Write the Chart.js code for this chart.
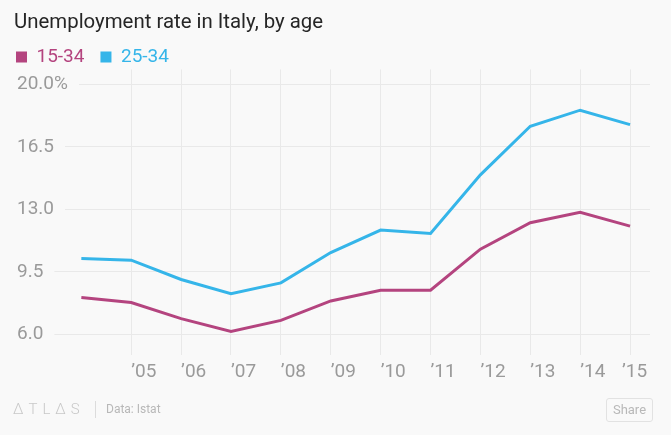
<!DOCTYPE html>
<html>
<head>
<meta charset="utf-8">
<script src="https://cdn.jsdelivr.net/npm/chart.js@4.4.1/dist/chart.umd.min.js"></script>
<style>
  html, body { margin: 0; padding: 0; background: #f9f9f9; }
  #wrap { position: relative; width: 671px; height: 435px; overflow: hidden; background: #f9f9f9; }
  #chart { position: absolute; left: 0; top: 0; }
  .foot { position: absolute; font-family: "Roboto", sans-serif; color: #b8b8b8; }
  #logo { left: 13px; top: 400px; font-weight: 300; font-size: 15px; letter-spacing: 5px; color: #c8c8c8; line-height: 18px; }
  #sep { left: 95px; top: 401px; width: 1px; height: 17px; background: #dcdcdc; }
  #src { left: 106px; top: 400px; font-size: 12px; line-height: 18px; }
  #share { left: 606px; top: 398px; width: 45px; height: 22px; border: 1px solid #e2e2e2; border-radius: 3px; font-size: 13px; line-height: 22px; text-align: center; }
</style>
</head>
<body>
<div id="wrap">
  <canvas id="chart" width="671" height="435" style="width:671px;height:435px"></canvas>
  <div class="foot" id="logo">ΔTLΔS</div>
  <div class="foot" id="sep"></div>
  <div class="foot" id="src">Data: Istat</div>
  <div class="foot" id="share">Share</div>
</div>
<script>
// ---- data ----
const years = [2004, 2005, 2006, 2007, 2008, 2009, 2010, 2011, 2012, 2013, 2014, 2015];
const rate15to34 = [8.07, 7.79, 6.89, 6.17, 6.79, 7.88, 8.48, 8.48, 10.78, 12.26, 12.84, 12.07];
const rate25to34 = [10.26, 10.16, 9.08, 8.29, 8.89, 10.59, 11.85, 11.66, 14.94, 17.66, 18.56, 17.75];
const seriesNames = ['15-34', '25-34'];
const xTickYears = [2005, 2006, 2007, 2008, 2009, 2010, 2011, 2012, 2013, 2014, 2015];
const xTickLabels = ['’05', '’06', '’07', '’08', '’09', '’10', '’11', '’12', '’13', '’14', '’15'];
const yTickValues = [6, 9.5, 13, 16.5, 20];
const yTickLabels = ['6.0', '9.5', '13.0', '16.5', '20.0%'];
const chartTitle = 'Unemployment rate in Italy, by age';

// ---- styles ----
const colors = ['#b4447f', '#35b5e9'];
const bg = '#f9f9f9';
const gridColor = '#e9e9e9';
const tickColor = '#9a9a9a';
const tickFont = 'Roboto, sans-serif';

const toPoints = (vals) => years.map((y, i) => ({ x: y, y: vals[i] }));

const layoutNudge = {
  id: 'layoutNudge',
  afterLayout(chart) {
    const t = chart.titleBlock;
    if (t) { t.top += 10.3; t.bottom += 10.3; }
    const l = chart.legend;
    if (l) { l.left -= 14; l.right -= 14; l.top += 7; l.bottom += 7; }
  },
  beforeDraw(chart) {
    // keep the last x label inside the plot edge, as in the original
    try {
      const items = chart.scales.x.getLabelItems();
      const last = items[items.length - 1];
      if (last && !last._nudged) { last.options.translation[0] -= 8; last._nudged = true; }
    } catch (e) {}
  }
};

new Chart(document.getElementById('chart'), {
  type: 'line',
  data: {
    datasets: [
      { label: seriesNames[0], data: toPoints(rate15to34), borderColor: colors[0], backgroundColor: colors[0] },
      { label: seriesNames[1], data: toPoints(rate25to34), borderColor: colors[1], backgroundColor: colors[1] }
    ]
  },
  options: {
    responsive: false,
    animation: false,
    devicePixelRatio: 1,
    layout: { padding: { left: 14, right: 21, top: 0, bottom: 44.5 } },
    elements: {
      line: { borderWidth: 3, tension: 0, fill: false },
      point: { radius: 0, hoverRadius: 0 }
    },
    plugins: {
      tooltip: { enabled: false },
      title: {
        display: true,
        text: chartTitle,
        align: 'start',
        color: '#262626',
        font: { family: 'Roboto, sans-serif', size: 20.4, weight: '400', lineHeight: 1.2 },
        padding: { top: 0, bottom: 0 }
      },
      legend: {
        display: true,
        position: 'top',
        align: 'start',
        labels: {
          boxWidth: 11,
          boxHeight: 11,
          padding: 16,
          font: { family: tickFont, size: 19, weight: '400' },
          generateLabels(chart) {
            const items = Chart.defaults.plugins.legend.labels.generateLabels(chart);
            items.forEach(it => {
              const c = chart.data.datasets[it.datasetIndex].borderColor;
              it.fillStyle = c; it.strokeStyle = c; it.lineWidth = 0; it.fontColor = c;
            });
            return items;
          }
        }
      }
    },
    scales: {
      x: {
        type: 'linear',
        min: 2002.69,
        max: 2015.4,
        afterBuildTicks(scale) { scale.ticks = xTickYears.map(v => ({ value: v })); },
        grid: { color: gridColor, lineWidth: 1, drawTicks: false },
        border: { display: false },
        ticks: {
          autoSkip: false,
          maxRotation: 0,
          align: 'start',
          padding: 6.6,
          color: tickColor,
          font: { family: tickFont, size: 19 },
          callback(value) { const i = xTickYears.indexOf(value); return i >= 0 ? xTickLabels[i] : ''; }
        }
      },
      y: {
        type: 'linear',
        min: 4.88,
        max: 20.84,
        afterBuildTicks(scale) { scale.ticks = yTickValues.map(v => ({ value: v })); },
        grid: { color: gridColor, lineWidth: 1, drawTicks: false },
        border: { display: false },
        ticks: {
          mirror: true,
          padding: 1,
          color: tickColor,
          font: { family: tickFont, size: 19 },
          showLabelBackdrop: true,
          backdropColor: bg,
          backdropPadding: { left: 2, right: 11, top: 3, bottom: 3 },
          callback(value) { const i = yTickValues.indexOf(value); return i >= 0 ? yTickLabels[i] : ''; }
        }
      }
    }
  },
  plugins: [layoutNudge]
});
</script>
</body>
</html>
